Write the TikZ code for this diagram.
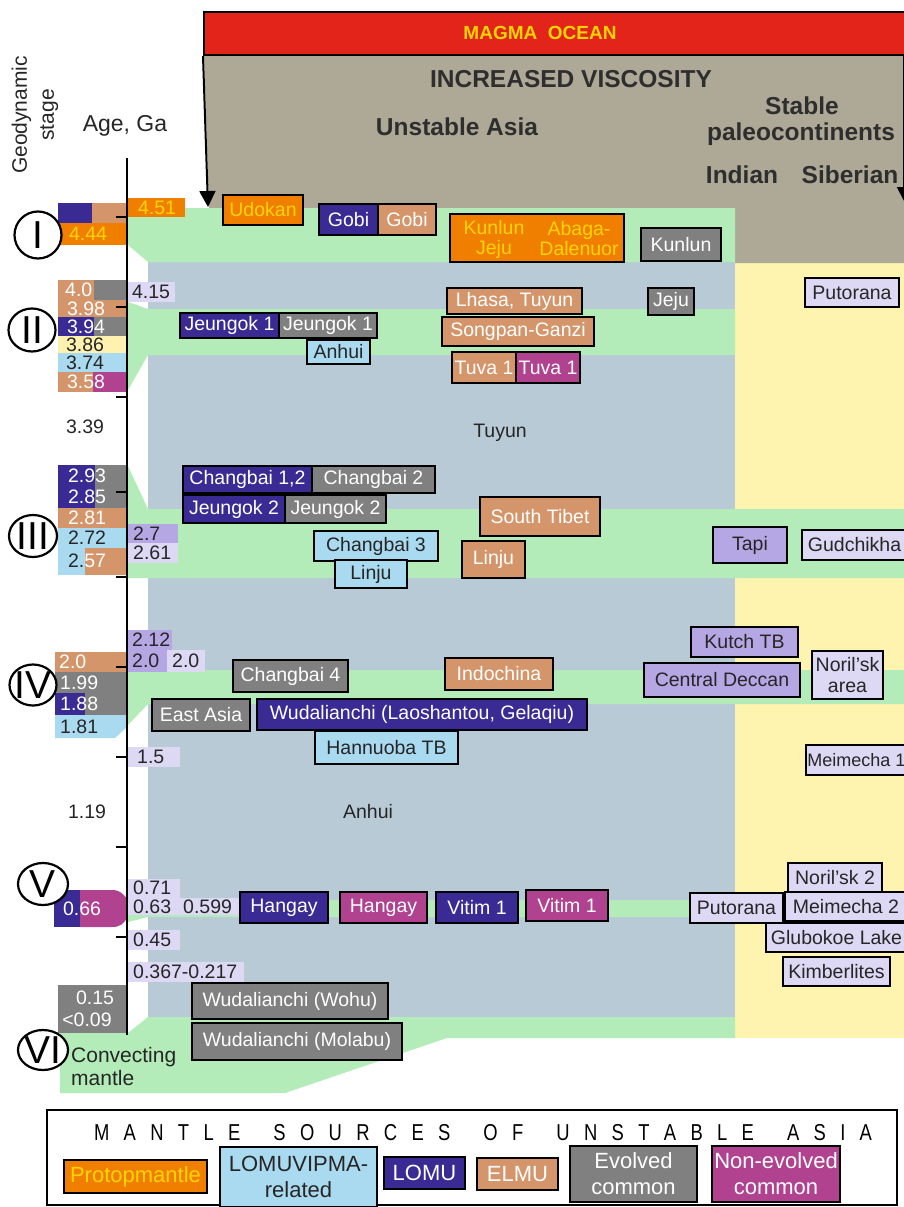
\documentclass[tikz,border=0pt]{standalone}
\usepackage{fontspec}
\setmainfont{Liberation Sans}
\newfontfamily\narrowfont[FakeStretch=0.8]{Liberation Sans}
\usetikzlibrary{arrows.meta,shapes.geometric}
\definecolor{cOrange}{HTML}{F07F00}
\definecolor{cYel}{HTML}{FFD400}
\definecolor{cBlue}{HTML}{3A2A94}
\definecolor{cTan}{HTML}{D4956A}
\definecolor{cGray}{HTML}{808080}
\definecolor{cMag}{HTML}{B0428F}
\definecolor{cLBlue}{HTML}{AADAF0}
\definecolor{cLav}{HTML}{DDD8F3}
\definecolor{cMLav}{HTML}{B4A7E4}
\definecolor{cGreen}{HTML}{B3ECB9}
\definecolor{cBG}{HTML}{B8CAD6}
\definecolor{cYellow}{HTML}{FFF3B0}
\definecolor{cPaleY}{HTML}{FFF2B0}
\definecolor{cTop}{HTML}{ADA996}
\definecolor{cRed}{HTML}{E2241B}
\definecolor{cDark}{HTML}{262626}
\definecolor{cHead}{HTML}{2E2E2E}
\tikzset{
  bx/.style={draw=black, line width=2.3pt, inner sep=0pt, align=center, font=\fontsize{19.5}{21}\selectfont},
  txt/.style={inner sep=0pt, font=\fontsize{19.5}{21}\selectfont, text=cDark},
  rn/.style={ellipse, draw=black, line width=2.2pt, fill=white, inner sep=0pt},
  rnt/.style={inner sep=0pt, font=\fontsize{39}{39}\selectfont, text=black},
  hd/.style={inner sep=0pt, font=\fontsize{24.5}{26}\selectfont\bfseries, text=cHead},
  lgb/.style={font=\fontsize{22}{26}\selectfont},
}
\newcommand\mybox[9][]{%
  \pgfmathsetmacro\bxw{#5-#3}\pgfmathsetmacro\bxh{#6-#4}%
  \node[bx,fill=#7,text=#8,minimum width=\bxw pt,minimum height=\bxh pt,#1] (#2) at ({(#3+#5)/2},{(#4+#6)/2}) {#9};}
\newcommand\lsp{\hspace{0pt plus 1fill}}
\newcommand\wsp{\hspace{0pt plus 2.3fill}}
\begin{document}
\begin{tikzpicture}[x=1pt,y=-1pt]
\useasboundingbox (0,0) rectangle (904,1207);
% ---------- background regions
\fill[cBG] (148,262) rectangle (735,1017);
\fill[cYellow] (735,262) rectangle (906,1038);
\fill[cTop] (204,55) -- (906,55) -- (906,263) -- (735,263) -- (735,208) -- (209,208) -- cycle;
\fill[cGreen] (128,208) -- (735,208) -- (735,262) -- (148,262) -- (128,245) -- cycle;
\fill[cGreen] (128,302) -- (148,309) -- (735,309) -- (735,355) -- (148,355) -- (128,390) -- cycle;
\fill[cGreen] (128,466) -- (148,509) -- (906,509) -- (906,578) -- (128,578) -- cycle;
\fill[cGreen] (128,670) -- (906,670) -- (906,704) -- (148,704) -- (128,725) -- cycle;
\fill[cGreen] (128,905) -- (148,900) -- (690,900) -- (690,917) -- (148,917) -- (128,922) -- cycle;
\fill[cGreen] (60,1033) -- (128,1033) -- (148,1017) -- (735,1017) -- (735,1038) -- (447,1038) -- (285,1093) -- (60,1093) -- cycle;
% ---------- magma ocean
\node[draw=black, line width=2pt, fill=cRed, inner sep=0pt, minimum width=704pt, minimum height=43pt] (magma) at (556,33.5) {};
\node[inner sep=0pt, font=\fontsize{19}{19}\selectfont\bfseries, text=cYel] (magmaT) at (540,33) {MAGMA\ \ OCEAN};
\node[hd] (incv) at (571,79) {INCREASED VISCOSITY};
\node[hd] (unst) at (457,127) {Unstable Asia};
\node[hd] (stab) at (802,106) {Stable};
\node[hd] (paleo) at (801,134) {paleocontinents};
\node[hd] (indian) at (742,175) {Indian};
\node[hd] (siber) at (850,175) {Siberian};
\coordinate (arrL) at (208,207);
\draw[line width=2pt, -{Triangle[width=16pt,length=16pt]}] (magma.south west) -- (arrL);
\coordinate (arrRtop) at (904,56);
\coordinate (arrR) at (904,201);
\draw[line width=2pt, -{Triangle[width=14pt,length=14pt]}] (arrRtop) -- (arrR);
% ---------- header left
\node[inner sep=0pt, rotate=90, align=center, font=\fontsize{21}{27}\selectfont, text=cDark] (geo) at (35,115) {Geodynamic\\stage};
\node[inner sep=0pt, font=\fontsize{23}{23}\selectfont, text=cDark] (age) at (125,126) {Age, Ga};
% ---------- left bars
% I
\fill[cBlue] (58,203) rectangle (92,223); \fill[cTan] (92,203) rectangle (127,223);
\fill[cOrange] (58,223) rectangle (127,245);
\node[txt,text=cYel] (v444) at (88,234) {4.44};
\fill[cOrange] (128,198) rectangle (185,217);
\node[txt,text=cYel] (v451) at (157,208) {4.51};
% II
\fill[cTan] (58,280) rectangle (94,300); \fill[cGray] (94,280) rectangle (127,300);
\node[txt,text=white,anchor=west] (v40) at (65,290) {4.0};
\fill[cTan] (58,300) rectangle (127,317);
\node[txt,text=white] (v398) at (86,309) {3.98};
\fill[cBlue] (58,317) rectangle (94,336); \fill[cGray] (94,317) rectangle (127,336);
\node[txt,text=white] (v394) at (86,327) {3.94};
\fill[cPaleY] (58,336) rectangle (127,353);
\node[txt] (v386) at (85,345) {3.86};
\fill[cLBlue] (58,353) rectangle (127,372);
\node[txt] (v374) at (85,363) {3.74};
\fill[cTan] (58,372) rectangle (93,392); \fill[cMag] (93,372) rectangle (127,392);
\node[txt,text=white] (v358) at (86,382) {3.58};
\fill[cLav] (128,282) rectangle (175,302);
\node[txt] (v415) at (151,292) {4.15};
\node[txt] (v339) at (85,427) {3.39};
% III
\fill[cBlue] (58,465) rectangle (95,508); \fill[cGray] (95,465) rectangle (127,508);
\node[txt,text=white] (v293) at (87,476) {2.93};
\node[txt,text=white] (v285) at (87,497) {2.85};
\fill[cTan] (58,508) rectangle (127,528);
\node[txt,text=white] (v281) at (87,518) {2.81};
\fill[cLBlue] (58,528) rectangle (127,548);
\node[txt] (v272) at (87,538) {2.72};
\fill[cLBlue] (58,548) rectangle (85,575); \fill[cTan] (85,548) rectangle (127,575);
\node[txt,text=white] (v257) at (87,561) {{\color{cDark}2.}57};
\fill[cMLav] (128,524) rectangle (178,543);
\node[txt,anchor=west] (v27) at (133,534) {2.7};
\fill[cLav] (128,543) rectangle (178,563);
\node[txt,anchor=west] (v261) at (133,553) {2.61};
% IV
\fill[cTan] (55,652) rectangle (127,672);
\node[txt,text=white,anchor=west] (v20a) at (59,662) {2.0};
\fill[cGray] (55,672) rectangle (127,693);
\node[txt,text=white,anchor=west] (v199) at (60,683) {1.99};
\fill[cBlue] (55,693) rectangle (85,715); \fill[cGray] (85,693) rectangle (127,715);
\node[txt,text=white,anchor=west] (v188) at (60,704) {1.88};
\fill[cLBlue] (55,715) -- (127,715) -- (127,727) -- (115,738) -- (55,738) -- cycle;
\node[txt,anchor=west] (v181) at (60,727) {1.81};
\fill[cMLav] (128,630) rectangle (172,650);
\node[txt,anchor=west] (v212) at (132,640) {2.12};
\fill[cMLav] (128,650) rectangle (167,672);
\node[txt,anchor=west] (v20b) at (132,661) {2.0};
\fill[cLav] (167,650) rectangle (205,672);
\node[txt,anchor=west] (v20c) at (172,661) {2.0};
\fill[cLav] (128,747) rectangle (180,767);
\node[txt,anchor=west] (v15) at (137,757) {1.5};
\node[txt] (v119) at (87,812) {1.19};
% V
\fill[cBlue] (54,890) rectangle (80,927);
\fill[cMag] (80,890) -- (112,890) .. controls (121,890) and (124,895) .. (127,899) -- (127,918) .. controls (124,923) and (121,927) .. (112,927) -- (80,927) -- cycle;
\node[txt,text=white] (v066) at (82,909) {0.66};
\fill[cLav] (128,879) rectangle (180,915); \fill[cLav] (180,898) rectangle (240,915);
\node[txt,anchor=west] (v071) at (133,888) {0.71};
\node[txt,anchor=west] (v063) at (133,907) {0.63};
\node[txt,anchor=west] (v0599) at (183,907) {0.599};
\fill[cLav] (128,930) rectangle (180,950);
\node[txt,anchor=west] (v045) at (133,940) {0.45};
\fill[cLav] (128,962) rectangle (244,982);
\node[txt,anchor=west] (v0367) at (133,972) {0.367-0.217};
% VI
\fill[cGray] (58,985) rectangle (127,1033);
\node[txt,text=white] (v015) at (95,998) {0.15};
\node[txt,text=white] (v009) at (87,1020) {<0.09};
\node[txt,anchor=west,align=left,font=\fontsize{21}{23}\selectfont] (conv) at (71,1066) {Convecting\\mantle};
% ---------- axis
\coordinate (axTop) at (127,158);
\coordinate (axBot) at (127,1035);
\draw[line width=2pt] (axTop) -- (axBot);
\foreach \ty in {217,307,397,492,577,667,757,847,937} \draw[line width=2pt] (116,\ty) -- (127,\ty);
% ---------- stage circles
\node[rn, minimum width=47pt, minimum height=47pt] (sI) at (38,235) {};
\node[rnt] (sIt) at (sI) {I};
\node[rn, minimum width=47pt, minimum height=43pt] (sII) at (32,330) {};
\node[rnt] (sIIt) at (sII) {II};
\node[rn, minimum width=48pt, minimum height=42pt] (sIII) at (33,536) {};
\node[rnt] (sIIIt) at (sIII) {III};
\node[rn, minimum width=47pt, minimum height=41pt] (sIV) at (33,685) {};
\node[rnt] (sIVt) at (sIV) {IV};
\node[rn, minimum width=50pt, minimum height=42pt] (sV) at (43,884) {};
\node[rnt] (sVt) at (sV) {V};
\node[rn, minimum width=50pt, minimum height=40pt] (sVI) at (43,1050) {};
\node[rnt] (sVIt) at (sVI) {VI};
% ---------- region labels
\node[txt] (tuyun) at (500,433) {Tuyun};
\node[txt] (anhuiT) at (368,812) {Anhui};
% ---------- row I
\mybox{udokan}{223}{195}{303}{225}{cOrange}{cYel}{Udokan}
\mybox{gobiA}{319}{204}{378}{235}{cBlue}{white}{Gobi}
\mybox{gobiB}{378}{204}{436}{235}{cTan}{white}{Gobi}
\mybox{kunA}{450}{214}{624}{262}{cOrange}{cYel}{}
\node[txt,text=cYel,align=center,font=\fontsize{19.5}{20}\selectfont] (kunAt1) at (494,239) {Kunlun\\Jeju};
\node[txt,text=cYel,align=center,font=\fontsize{19.5}{20}\selectfont] (kunAt2) at (579,239) {Abaga-\\Dalenuor};
\mybox{kunB}{641}{228}{721}{261}{cGray}{white}{Kunlun}
% ---------- row II
\mybox{lhasa}{447}{288}{582}{314}{cTan}{white}{Lhasa, Tuyun}
\mybox{jejuB}{648}{288}{694}{315}{cGray}{white}{Jeju}
\mybox{putA}{805}{278}{899}{307}{cLav}{cDark}{Putorana}
\mybox{jeuA}{180}{313}{279}{338}{cBlue}{white}{Jeungok 1}
\mybox{jeuB}{279}{313}{377}{338}{cGray}{white}{Jeungok 1}
\mybox{songpan}{442}{317}{594}{346}{cTan}{white}{Songpan-Ganzi}
\mybox{anhuiA}{307}{340}{370}{364}{cLBlue}{cDark}{Anhui}
\mybox{tuvaA}{452}{352}{516}{383}{cTan}{white}{Tuva 1}
\mybox{tuvaB}{516}{352}{580}{383}{cMag}{white}{Tuva 1}
% ---------- row III
\mybox{chA}{183}{466}{312}{493}{cBlue}{white}{Changbai 1,2}
\mybox{chB}{312}{466}{435}{493}{cGray}{white}{Changbai 2}
\mybox{jeuC}{183}{495}{285}{523}{cBlue}{white}{Jeungok 2}
\mybox{jeuD}{285}{495}{386}{523}{cGray}{white}{Jeungok 2}
\mybox{stibet}{480}{497}{600}{536}{cTan}{white}{South Tibet}
\mybox{chC}{314}{531}{438}{561}{cLBlue}{cDark}{Changbai 3}
\mybox{linjuA}{335}{560}{407}{588}{cLBlue}{cDark}{Linju}
\mybox{linjuB}{462}{541}{525}{578}{cTan}{white}{Linju}
\mybox{tapi}{713}{527}{787}{563}{cMLav}{cDark}{Tapi}
\mybox{gud}{802}{530}{907}{560}{cLav}{cDark}{Gudchikha}
% ---------- row IV
\mybox{kutch}{691}{627}{798}{657}{cMLav}{cDark}{Kutch TB}
\mybox{deccan}{644}{663}{800}{697}{cMLav}{cDark}{Central Deccan}
\mybox{noril}{812}{651}{883}{699}{cLav}{cDark}{Noril’sk\\area}
\mybox{chD}{233}{660}{348}{692}{cGray}{white}{Changbai 4}
\mybox{indo}{445}{658}{553}{690}{cTan}{white}{Indochina}
\mybox{easia}{152}{699}{250}{731}{cGray}{white}{East Asia}
\mybox{wuA}{257}{699}{587}{730}{cBlue}{white}{Wudalianchi (Laoshantou, Gelaqiu)}
\mybox{hann}{315}{731}{458}{764}{cLBlue}{cDark}{Hannuoba TB}
\mybox[font=\fontsize{18}{20}\selectfont]{meiA}{806}{745}{907}{775}{cLav}{cDark}{Meimecha 1}
% ---------- row V
\mybox{hanA}{240}{892}{328}{923}{cBlue}{white}{Hangay}
\mybox{hanB}{340}{892}{427}{923}{cMag}{white}{Hangay}
\mybox{vitA}{436}{892}{518}{923}{cBlue}{white}{Vitim 1}
\mybox{vitB}{526}{890}{608}{921}{cMag}{white}{Vitim 1}
\mybox{putB}{690}{893}{783}{923}{cLav}{cDark}{Putorana}
\mybox{nor2}{788}{863}{882}{892}{cLav}{cDark}{Noril’sk 2}
\mybox{mei2}{785}{892}{907}{921}{cLav}{cDark}{Meimecha 2}
\mybox{glub}{766}{923}{907}{952}{cLav}{cDark}{Glubokoe Lake}
\mybox{kimb}{783}{957}{890}{986}{cLav}{cDark}{Kimberlites}
% ---------- row VI
\mybox{wuB}{192}{983}{388}{1019}{cGray}{white}{Wudalianchi (Wohu)}
\mybox{wuC}{192}{1023}{402}{1060}{cGray}{white}{Wudalianchi (Molabu)}
% ---------- legend
\node[draw=black, line width=2pt, fill=white, inner sep=0pt, minimum width=850pt, minimum height=95pt] (legend) at (472,1157.5) {};
\node[inner sep=0pt, font=\narrowfont\fontsize{23}{23}\selectfont, text=black] (legT) at (483,1133) {\hbox to 778pt{M\lsp A\lsp N\lsp T\lsp L\lsp E\wsp S\lsp O\lsp U\lsp R\lsp C\lsp E\lsp S\wsp O\lsp F\wsp U\lsp N\lsp S\lsp T\lsp A\lsp B\lsp L\lsp E\wsp A\lsp S\lsp I\lsp A}};
\mybox[lgb]{lgP}{64}{1160}{207}{1193}{cOrange}{cYel}{Protopmantle}
\mybox[lgb]{lgL}{220}{1147}{377}{1207}{cLBlue}{cDark}{LOMUVIPMA-\\related}
\mybox[lgb]{lgLO}{384}{1157}{465}{1189}{cBlue}{white}{LOMU}
\mybox[lgb]{lgE}{477}{1158}{558}{1190}{cTan}{white}{ELMU}
\mybox[lgb]{lgEv}{570}{1146}{697}{1202}{cGray}{white}{Evolved\\common}
\mybox[lgb]{lgN}{712}{1146}{840}{1202}{cMag}{white}{Non-evolved\\common}
\end{tikzpicture}
\end{document}
